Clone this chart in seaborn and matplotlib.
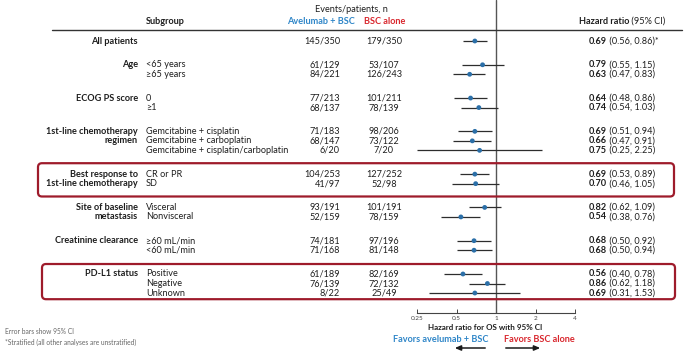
import numpy as np
import pandas as pd
import matplotlib
matplotlib.use("Agg")
import matplotlib.pyplot as plt
import seaborn as sns
from matplotlib.transforms import blended_transform_factory, IdentityTransform
from matplotlib.patches import FancyBboxPatch

# ---- data ----
group_labels = [["All patients"], ["Age"], ["ECOG PS score"],
                ["1st-line chemotherapy", "regimen"],
                ["Best response to", "1st-line chemotherapy"],
                ["Site of baseline", "metastasis"],
                ["Creatinine clearance"], ["PD-L1 status"]]
group_sizes = [1, 2, 2, 3, 2, 2, 2, 3]
subgroups = ["", "<65 years", "\u226565 years", "0", "\u22651",
             "Gemcitabine + cisplatin", "Gemcitabine + carboplatin",
             "Gemcitabine + cisplatin/carboplatin", "CR or PR", "SD",
             "Visceral", "Nonvisceral", "\u226560 mL/min", "<60 mL/min",
             "Positive", "Negative", "Unknown"]
avelumab_n = ["145/350", "61/129", "84/221", "77/213", "68/137", "71/183",
              "68/147", "6/20", "104/253", "41/97", "93/191", "52/159",
              "74/181", "71/168", "61/189", "76/139", "8/22"]
bsc_n = ["179/350", "53/107", "126/243", "101/211", "78/139", "98/206",
         "73/122", "7/20", "127/252", "52/98", "101/191", "78/159",
         "97/196", "81/148", "82/169", "72/132", "25/49"]
hr = [0.69, 0.79, 0.63, 0.64, 0.74, 0.69, 0.66, 0.75, 0.69, 0.70,
      0.82, 0.54, 0.68, 0.68, 0.56, 0.86, 0.69]
ci_low = [0.56, 0.55, 0.47, 0.48, 0.54, 0.51, 0.47, 0.25, 0.53, 0.46,
          0.62, 0.38, 0.50, 0.50, 0.40, 0.62, 0.31]
ci_high = [0.86, 1.15, 0.83, 0.86, 1.03, 0.94, 0.91, 2.25, 0.89, 1.05,
           1.09, 0.76, 0.92, 0.94, 0.78, 1.18, 1.53]
hr_suffix = ["*"] + [""] * 16
x_ticks = [0.25, 0.5, 1, 2, 4]
x_ticklabels = ["0.25", "0.5", "1", "2", "4"]
boxed_groups = [4, 7]

# row positions (extra gap of 1.5 rows between groups)
ypos, group_start = [], []
y = 0.0
for g, n in enumerate(group_sizes):
    if g > 0:
        y += 2.5
    group_start.append(y)
    for i in range(n):
        ypos.append(y + i)
    y += n - 1
df = pd.DataFrame({"hr": hr, "lo": ci_low, "hi": ci_high, "y": ypos})

sns.set_style("white")
plt.rcParams["font.family"] = ["Lato", "DejaVu Sans"]

W, H = 688, 352
fig = plt.figure(figsize=(W / 100, H / 100), dpi=100)
fig.patch.set_facecolor("white")

TXT = "#1e1e1e"
BLUE = "#2f86c8"
RED = "#d9272e"
DOT = "#2b6fa8"
BOX = "#9e1b2b"
FS = 6.6

# forest axes: x 0.25 -> 417px, 4 -> 575px; top of fig -> axis line at 313px
row0_px, row_px = 41, 9.51
ax_top, ax_bot = 0, 313
ax = fig.add_axes([417 / W, 1 - ax_bot / H, (575 - 417) / W, (ax_bot - ax_top) / H])
ax.set_xscale("log", base=2)
ax.set_xlim(0.25, 4)
ax.set_ylim((ax_bot - row0_px) / row_px, (ax_top - row0_px) / row_px)
ax.patch.set_alpha(0)

ax.axvline(1, color="#555555", lw=1.0, zorder=1)
ax.hlines(df["y"], df["lo"], df["hi"], color="#2d2d2d", lw=0.9, zorder=2, clip_on=False)
sns.scatterplot(data=df, x="hr", y="y", ax=ax, s=12, color=DOT, edgecolor="none",
                zorder=3, clip_on=False, legend=False)

for s in ["top", "right", "left"]:
    ax.spines[s].set_visible(False)
ax.spines["bottom"].set_color("#444444")
ax.spines["bottom"].set_linewidth(0.8)
ax.set_xticks(x_ticks)
ax.set_xticklabels(x_ticklabels)
ax.minorticks_off()
ax.tick_params(axis="x", direction="in", length=3, width=0.7, color="#444444",
               labelsize=4.6, labelcolor="#444444", pad=2, bottom=True)
ax.set_yticks([])
ax.set_xlabel("")
ax.set_ylabel("")

# text columns: x in figure fraction, y in row units
tr = blended_transform_factory(fig.transFigure, ax.transData)


def fx(px):
    return px / W


def fy(py):
    return 1 - py / H


for g, labels in enumerate(group_labels):
    for k, lab in enumerate(labels):
        fig.text(fx(138), group_start[g] + k, lab, transform=tr, ha="right",
                 va="center", fontsize=FS, fontweight="bold", color=TXT)

for i in range(len(hr)):
    yy = ypos[i]
    fig.text(fx(146), yy, subgroups[i], transform=tr, ha="left", va="center",
             fontsize=FS, color=TXT)
    fig.text(fx(340), yy, avelumab_n[i], transform=tr, ha="right", va="center",
             fontsize=FS, color=TXT)
    fig.text(fx(384), yy, bsc_n[i], transform=tr, ha="center", va="center",
             fontsize=FS, color=TXT)
    t = fig.text(fx(589), yy, f"{hr[i]:.2f}", transform=tr, ha="left",
                 va="center", fontsize=FS, fontweight="bold", color=TXT)
    ax.annotate(f" ({ci_low[i]:.2f}, {ci_high[i]:.2f}){hr_suffix[i]}",
                xy=(1, 0), xycoords=t, ha="left", va="bottom",
                fontsize=FS, color=TXT, annotation_clip=False)

# headers
fig.text(fx(165), fy(22), "Subgroup", ha="center", va="center", fontsize=FS,
         fontweight="bold", color=TXT)
fig.text(fx(351), fy(9), "Events/patients, n", ha="center", va="center",
         fontsize=FS, color=TXT)
fig.text(fx(321), fy(21), "Avelumab + BSC", ha="center", va="center",
         fontsize=FS, fontweight="bold", color=BLUE)
fig.text(fx(385), fy(21), "BSC alone", ha="center", va="center",
         fontsize=FS, fontweight="bold", color=RED)
th = fig.text(fx(579), fy(21), "Hazard ratio", ha="left", va="center",
              fontsize=FS, fontweight="bold", color=TXT)
ax.annotate(" (95% CI)", xy=(1, 0), xycoords=th, ha="left", va="bottom",
            fontsize=FS, color=TXT, annotation_clip=False)
fig.add_artist(plt.Line2D([fx(52), fx(682)], [fy(30), fy(30)],
                          transform=fig.transFigure, color="#333333", lw=1.0))

fig.text(fx(485), fy(327), "Hazard ratio for OS with 95% CI", ha="center",
         va="center", fontsize=5.8, fontweight="bold", color=TXT)
fig.text(fx(441), fy(339), "Favors avelumab + BSC", ha="center", va="center",
         fontsize=FS, fontweight="bold", color=BLUE)
fig.text(fx(539), fy(339), "Favors BSC alone", ha="center", va="center",
         fontsize=FS, fontweight="bold", color=RED)
arrow = dict(arrowstyle="-|>,head_length=0.35,head_width=0.15", color="#1a1a1a", lw=1.1)
ax.annotate("", xy=(452, H - 348), xytext=(488, H - 348), xycoords="figure pixels",
            textcoords="figure pixels", arrowprops=arrow, annotation_clip=False)
ax.annotate("", xy=(543, H - 348), xytext=(503, H - 348), xycoords="figure pixels",
            textcoords="figure pixels", arrowprops=arrow, annotation_clip=False)

fig.text(fx(5), fy(331), "Error bars show 95% CI", ha="left", va="center",
         fontsize=4.8, color="#666666")
fig.text(fx(5), fy(342), "*Stratified (all other analyses are unstratified)",
         ha="left", va="center", fontsize=4.8, color="#666666")

# red boxes around highlighted groups (pad above / below in rows)
for g, (x0, x1), (pad_top, pad_bot) in zip(boxed_groups, [(38, 674), (42, 675)],
                                           [(1.15, 1.35), (1.05, 0.65)]):
    first = group_start[g]
    last = first + group_sizes[g] - 1
    y_top = H - (row0_px + (first - pad_top) * row_px)
    y_bottom = H - (row0_px + (last + pad_bot) * row_px)
    box = FancyBboxPatch((x0, y_bottom), x1 - x0, y_top - y_bottom,
                         boxstyle="round,pad=0,rounding_size=4",
                         transform=IdentityTransform(), fill=False,
                         edgecolor=BOX, lw=1.6)
    fig.add_artist(box)

fig.savefig("out.png", dpi=100)
